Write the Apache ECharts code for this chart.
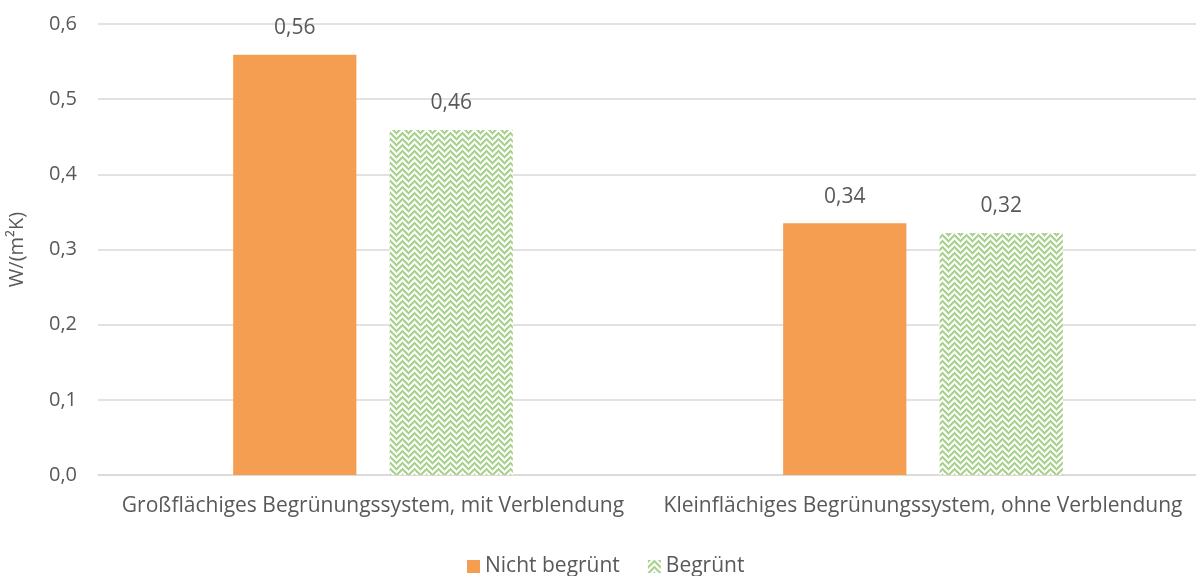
<!DOCTYPE html>
<html><head><meta charset="utf-8">
<script src="https://cdn.jsdelivr.net/npm/echarts@6/dist/echarts.min.js"></script>
<style>html,body{margin:0;padding:0;background:#fff}#c{width:1196px;height:576px}</style>
</head><body><div id="c"></div>
<script>
const categories = ['Großflächiges Begrünungssystem, mit Verblendung', 'Kleinflächiges Begrünungssystem, ohne Verblendung'];
const seriesNames = ['Nicht begrünt', 'Begrünt'];
const nichtBegruent = [0.559, 0.335];
const begruent = [0.459, 0.322];
const nichtLabels = ['0,56', '0,34'];
const begrLabels = ['0,46', '0,32'];
const yTicks = ['0,0','0,1','0,2','0,3','0,4','0,5','0,6'];

function makePattern() {
  const W = 12, H = 6;
  const c = document.createElement('canvas');
  c.width = W; c.height = H;
  const ctx = c.getContext('2d');
  ctx.fillStyle = '#ffffff'; ctx.fillRect(0, 0, W, H);
  const cols = ['#9fcd84', '#a8d28e', '#c8e3b6', null, null, '#e4f1db'];
  for (let y = 0; y < H; y++) {
    for (let x = 0; x < W; x++) {
      let d;
      if (x < 6) d = ((x + y) % 6 + 6) % 6;
      else d = (((y - x) % 6) + 12) % 6;
      const col = cols[d];
      if (col) { ctx.fillStyle = col; ctx.fillRect(x, y, 1, 1); }
    }
  }
  return c;
}
const pat = makePattern();
const font = 'Open Sans';
const fs = 20;
const fsCat = 21;
const chart = echarts.init(document.getElementById('c'));
chart.setOption({
  animation: false,
  textStyle: { fontFamily: font },
  grid: { left: 98, right: -2, top: 24, bottom: 101, containLabel: false, outerBoundsMode: 'none' },
  legend: {
    top: 551, left: 462, itemWidth: 13, itemHeight: 13, itemGap: 28,
    textStyle: { fontSize: fsCat, color: '#595959', fontFamily: font },
    data: [{ name: seriesNames[0], icon: 'rect' }, { name: seriesNames[1], icon: 'rect' }]
  },
  xAxis: {
    type: 'category', data: categories,
    axisLine: { lineStyle: { color: '#d9d9d9', width: 1.5 } },
    axisTick: { show: false },
    axisLabel: { color: '#595959', fontSize: fsCat, margin: 21, interval: 0 }
  },
  yAxis: {
    type: 'value', min: 0, max: 0.6, interval: 0.1,
    name: 'W/(m²K)', nameLocation: 'middle', nameGap: 71, nameRotate: 90,
    nameTextStyle: { color: '#595959', fontSize: fs },
    axisLabel: { color: '#595959', fontSize: fs, margin: 21, formatter: (v) => yTicks[Math.round(v * 10)] },
    splitLine: { lineStyle: { color: '#d9d9d9', width: 1.5 } },
    axisLine: { show: false }, axisTick: { show: false }
  },
  series: [
    {
      name: seriesNames[0], type: 'bar', data: nichtBegruent, barWidth: '22.4%', barGap: '27%',
      itemStyle: { color: '#f59d51' },
      label: { show: true, position: 'top', distance: 16, color: '#595959', fontSize: fsCat,
        formatter: (p) => nichtLabels[p.dataIndex] }
    },
    {
      name: seriesNames[1], type: 'bar', data: begruent, barWidth: '22.4%',
      itemStyle: { color: { image: pat, repeat: 'repeat' } },
      label: { show: true, position: 'top', distance: 16, color: '#595959', fontSize: fsCat,
        formatter: (p) => begrLabels[p.dataIndex] }
    }
  ]
});
</script></body></html>
